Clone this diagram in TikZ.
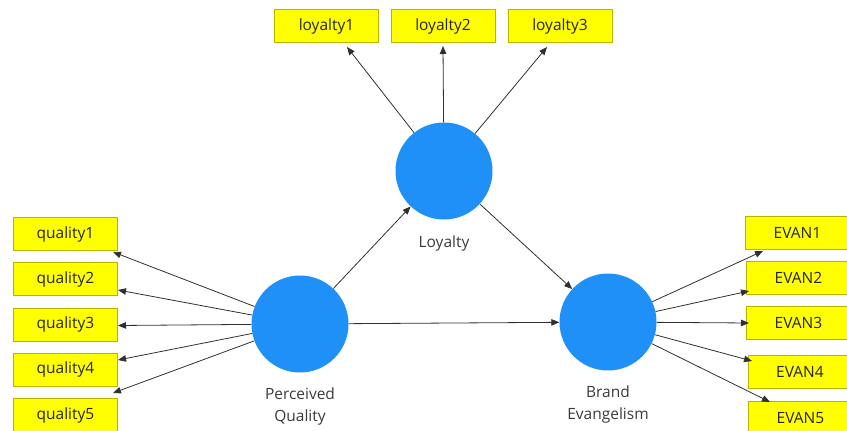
\documentclass[tikz,border=0pt]{standalone}
\usepackage{fontspec}
\setmainfont{Open Sans}
\usetikzlibrary{arrows.meta}
\definecolor{lvfill}{HTML}{1E90F8}
\definecolor{itemfill}{HTML}{FFFF00}
\definecolor{itemline}{HTML}{B8B400}
\definecolor{linkgray}{HTML}{303030}
\definecolor{labelgray}{HTML}{3A3A3A}
\tikzset{
  item/.style={rectangle, fill=itemfill, draw=itemline, line width=0.6pt,
    minimum width=104pt, minimum height=33pt, inner sep=0pt,
    font=\fontsize{15.5}{18}\selectfont, text=black!85},
  latent/.style={circle, fill=lvfill, draw=none, minimum size=97pt, inner sep=0pt},
  lvlabel/.style={font=\fontsize{15.5}{22}\selectfont, text=labelgray, align=center},
  link/.style={draw=linkgray, line width=0.8pt,
    -{Triangle[length=8pt,width=6.5pt]}}
}
\begin{document}
\begin{tikzpicture}[x=1pt,y=-1pt]
\useasboundingbox (0,0) rectangle (847,431);

% indicator boxes
\node[item] (l1) at (326.5,26) {loyalty1};
\node[item] (l2) at (443,26) {loyalty2};
\node[item] (l3) at (560,26) {loyalty3};

\node[item] (q1) at (65.5,234) {quality1};
\node[item] (q2) at (65.5,279) {quality2};
\node[item] (q3) at (65.5,324.5) {quality3};
\node[item] (q4) at (65.5,369.5) {quality4};
\node[item] (q5) at (65.5,415) {quality5};

\node[item] (e1) at (797.5,233) {EVAN1};
\node[item] (e2) at (798.5,278) {EVAN2};
\node[item] (e3) at (798.5,323) {EVAN3};
\node[item] (e4) at (800,372) {EVAN4};
\node[item] (e5) at (800.5,418) {EVAN5};

% latent variables
\node[latent] (loy) at (444,171) {};
\node[latent] (pq) at (300,324) {};
\node[latent] (be) at (608,322) {};

\node[lvlabel] (loylab) at (444,243) {Loyalty};
\node[lvlabel] (pqlab) at (300,406) {Perceived\\Quality};
\node[lvlabel] (belab) at (608,404) {Brand\\Evangelism};

% arrow end points at the indicator boxes
\coordinate (tl1) at (347,47);
\coordinate (tl2) at (443,46);
\coordinate (tl3) at (547,47);
\coordinate (tq1) at (113,252);
\coordinate (tq2) at (118,290);
\coordinate (tq3) at (118,325.5);
\coordinate (tq4) at (118,360);
\coordinate (tq5) at (113,393);
\coordinate (te1) at (763,251);
\coordinate (te2) at (749,291);
\coordinate (te3) at (749,323);
\coordinate (te4) at (752,361);
\coordinate (te5) at (770,402);

% structural paths
\draw[link] (pq) -- (loy);
\draw[link] (loy) -- (be);
\draw[link] (pq) -- (be);

% measurement paths
\foreach \t in {tl1,tl2,tl3} \draw[link] (loy) -- (\t);
\foreach \t in {tq1,tq2,tq3,tq4,tq5} \draw[link] (pq) -- (\t);
\foreach \t in {te1,te2,te3,te4,te5} \draw[link] (be) -- (\t);
\end{tikzpicture}
\end{document}
